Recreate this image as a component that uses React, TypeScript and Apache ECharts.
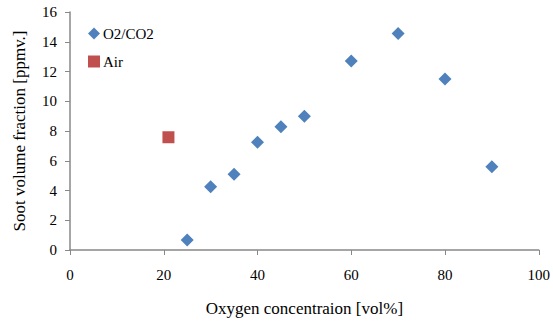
import React, { useEffect, useRef } from "react";
import * as echarts from "echarts";

const o2co2X = [25, 30, 35, 40, 45, 50, 60, 70, 80, 90];
const o2co2Y = [0.68, 4.25, 5.1, 7.25, 8.28, 9.0, 12.7, 14.55, 11.5, 5.6];
const airX = [21];
const airY = [7.58];

const font = "'Liberation Serif', 'Times New Roman', 'DejaVu Serif', serif";

export default function App() {
  const ref = useRef<HTMLDivElement>(null);
  useEffect(() => {
    if (!ref.current) return;
    const chart = echarts.init(ref.current, undefined, { renderer: "svg" });
    chart.setOption({
      animation: false,
      textStyle: { fontFamily: font },
      grid: { left: 70, right: 12, top: 12, bottom: 69 },
      legend: {
        orient: "vertical",
        left: 83,
        top: 21,
        itemWidth: 12,
        itemHeight: 12,
        itemGap: 13,
        textStyle: { fontFamily: font, fontSize: 15, color: "#000", padding: [0, 0, 0, -2] },
        data: ["O2/CO2", "Air"],
      },
      xAxis: {
        type: "value",
        min: 0,
        max: 100,
        interval: 20,
        name: "Oxygen concentraion [vol%]",
        nameLocation: "middle",
        nameGap: 50,
        nameTextStyle: { fontFamily: font, fontSize: 17, color: "#000" },
        axisLine: { show: true, lineStyle: { color: "#888", width: 1.5 } },
        axisTick: { show: true, length: 5, inside: false, lineStyle: { color: "#888" } },
        axisLabel: { fontFamily: font, fontSize: 15, color: "#000", margin: 17 },
        splitLine: { show: false },
      },
      yAxis: {
        type: "value",
        min: 0,
        max: 16,
        interval: 2,
        name: "Soot volume fraction [ppmv.]",
        nameLocation: "middle",
        nameGap: 42,
        nameTextStyle: { fontFamily: font, fontSize: 17, color: "#000" },
        axisLine: { show: true, lineStyle: { color: "#888", width: 1.5 } },
        axisTick: { show: true, length: 5, inside: false, lineStyle: { color: "#888" } },
        axisLabel: { fontFamily: font, fontSize: 15, color: "#000", margin: 13 },
        splitLine: { show: false },
      },
      series: [
        {
          name: "O2/CO2",
          type: "scatter",
          symbol: "diamond",
          symbolSize: 13,
          itemStyle: { color: "#4F81BD", opacity: 1 },
          data: o2co2X.map((x, i) => [x, o2co2Y[i]]),
        },
        {
          name: "Air",
          type: "scatter",
          symbol: "rect",
          symbolSize: 12,
          itemStyle: { color: "#C0504D", opacity: 1 },
          data: airX.map((x, i) => [x, airY[i]]),
        },
      ],
    });
    return () => chart.dispose();
  }, []);
  return <div ref={ref} style={{ width: 553, height: 322, position: "absolute", left: 0, top: 0 }} />;
}
